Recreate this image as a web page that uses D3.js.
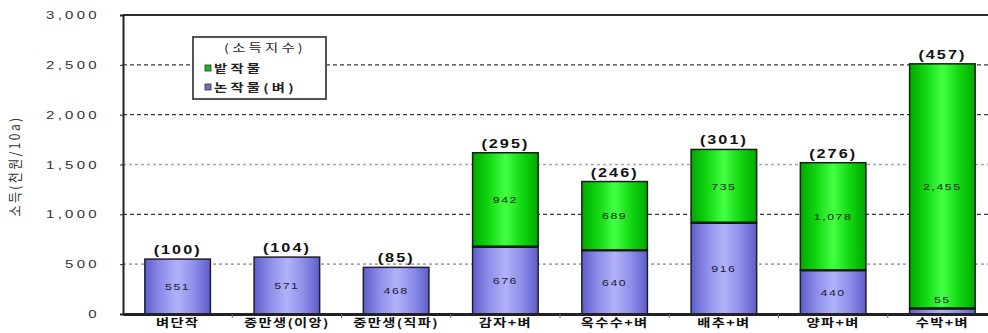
<!DOCTYPE html>
<html><head><meta charset="utf-8">
<script src="https://cdn.jsdelivr.net/npm/d3@7"></script>
<style>
html,body{margin:0;padding:0;background:#fff;}
svg{display:block;}
text{font-family:Arial,"Liberation Sans","Noto Sans CJK KR",sans-serif;fill:#1a1a1a;}
.kr{font-family:"Noto Sans CJK KR",sans-serif;}
</style>
</head><body>
<svg id="c" width="988" height="333"></svg>
<script>
const categories = ["벼단작","중만생(이앙)","중만생(직파)","감자+벼","옥수수+벼","배추+벼","양파+벼","수박+벼"];
const riceValues = [551,571,468,676,640,916,440,55];
const uplandValues = [0,0,0,942,689,735,1078,2455];
const indexLabels = [100,104,85,295,246,301,276,457];
const yTicks = [0,500,1000,1500,2000,2500,3000];
const legendTitle = "(소득지수)";
const seriesNames = ["밭작물","논작물(벼)"];
const yTitle = "소득(천원/10a)";

const svg = d3.select("#c");
const W = 988, H = 333;
const m = {left:123, right:-9, top:15, bottom:19};
const x = d3.scaleBand().domain(categories).range([m.left, W - m.right]).paddingInner(0.4).paddingOuter(0.2);
const y = d3.scaleLinear().domain([0,3000]).range([H - m.bottom, m.top]);

const defs = svg.append("defs");
function grad(id, edge, mid, center){
  const g = defs.append("linearGradient").attr("id",id).attr("x1","0").attr("x2","1").attr("y1","0").attr("y2","0");
  g.append("stop").attr("offset","0%").attr("stop-color",edge);
  g.append("stop").attr("offset","25%").attr("stop-color",mid);
  g.append("stop").attr("offset","50%").attr("stop-color",center);
  g.append("stop").attr("offset","75%").attr("stop-color",mid);
  g.append("stop").attr("offset","100%").attr("stop-color",edge);
}
grad("gP","#5e5ecc","#8e8eea","#b2b2fa");
grad("gG","#00a800","#12d812","#44ff44");

function stext(g, tx, ty, str, opt){
  const t = g.append("text")
    .attr("transform",`translate(${tx},${ty}) scale(${opt.sx||1},${opt.sy||1})`)
    .attr("text-anchor",opt.anchor||"middle")
    .attr("font-size",opt.size||10)
    .attr("font-weight",opt.weight||"normal")
    .attr("letter-spacing",opt.ls||0)
    .text(str);
  if(opt.cls) t.attr("class",opt.cls);
  if(opt.fill) t.style("fill",opt.fill);
  return t;
}

// gridlines
const grid = svg.append("g");
yTicks.filter(d=>d>0 && d<3000).forEach(d=>{
  const major = (d===1000||d===2000||d===2500);
  grid.append("line").attr("x1",m.left).attr("x2",W).attr("y1",y(d)).attr("y2",y(d))
    .attr("stroke", major ? "#3a3a3a" : "#a8a8a8")
    .attr("stroke-width", major ? 1.2 : 1.6)
    .attr("stroke-dasharray", major ? "4,3" : "3,3");
});
svg.append("line").attr("x1",m.left).attr("x2",W).attr("y1",y(3000)).attr("y2",y(3000))
  .attr("stroke","#2a2a2a").attr("stroke-width",2);

// y axis
const yAxis = d3.axisLeft(y).tickValues(yTicks).tickSize(3).tickFormat("");
const ya = svg.append("g").attr("transform",`translate(${m.left},0)`).call(yAxis);
ya.select(".domain").attr("stroke","#222").attr("stroke-width",2);
ya.selectAll(".tick line").attr("stroke","#222");
const fmt = d3.format(",");
yTicks.forEach(d=>{
  stext(svg, 100, y(d)+4, fmt(d), {anchor:"end", size:10, sx:1.5, ls:2.2, fill:"#333"});
});

// y title
svg.append("text").attr("class","kr")
  .attr("transform",`translate(20,166) rotate(-90) scale(1,1.15)`)
  .attr("text-anchor","middle").attr("font-size",12).attr("letter-spacing",2.4)
  .style("fill","#333").text(yTitle);

// bars
const bars = svg.append("g");
categories.forEach((c,i)=>{
  const bx = x(c), bw = x.bandwidth();
  const r = riceValues[i], u = uplandValues[i];
  bars.append("rect").attr("x",bx).attr("width",bw)
    .attr("y",y(r)).attr("height",y(0)-y(r))
    .attr("fill","url(#gP)").attr("stroke","#1e1e2e").attr("stroke-width",1.5);
  if(u>0){
    bars.append("rect").attr("x",bx).attr("width",bw)
      .attr("y",y(r+u)).attr("height",y(r)-y(r+u))
      .attr("fill","url(#gG)").attr("stroke","#142014").attr("stroke-width",1.5);
    bars.append("line").attr("x1",bx).attr("x2",bx+bw).attr("y1",y(r)).attr("y2",y(r))
      .attr("stroke","#102010").attr("stroke-width",2.5);
  }
});

// x axis
const xAxis = d3.axisBottom(x).tickSize(0).tickFormat("");
const xa = svg.append("g").attr("transform",`translate(0,${y(0)})`).call(xAxis);
xa.select(".domain").attr("stroke","#222").attr("stroke-width",3);
categories.slice(1).forEach(c=>{
  const sx = x(c) - x.step()*x.paddingInner()/2;
  svg.append("line").attr("x1",sx).attr("x2",sx).attr("y1",y(0)).attr("y2",y(0)+4)
    .attr("stroke","#666").attr("stroke-width",1);
});

// labels
categories.forEach((c,i)=>{
  const cx = x(c) + x.bandwidth()/2;
  const r = riceValues[i], u = uplandValues[i];
  const segH = y(0)-y(r);
  const ry = segH < 15 ? y(r) - 6 : (y(0)+y(r))/2 + 3.5;
  stext(svg, cx, ry, fmt(r), {size:9.5, sx:1.3, ls:1.2, fill:"#1a1a3a"});
  if(u>0){
    stext(svg, cx, (y(r)+y(r+u))/2 + 3.5, fmt(u), {size:9.5, sx:1.3, ls:1.2, fill:"#0a2a0a"});
  }
  stext(svg, cx, y(r+u) - 5, `(${indexLabels[i]})`, {size:12, weight:"bold", sx:1.35, ls:1.5, fill:"#111"});
  stext(svg, cx, 327, c, {size:11, weight:"bold", sx:1.3, ls:1, cls:"kr", fill:"#111"});
});

// legend
const lg = svg.append("g");
lg.append("rect").attr("x",193).attr("y",37).attr("width",133).attr("height",62)
  .attr("fill","#fff").attr("stroke","#555").attr("stroke-width",2);
stext(lg, 265, 52, legendTitle, {size:11, sx:1.3, ls:2.5, cls:"kr", fill:"#222"});
lg.append("rect").attr("x",205).attr("y",65).attr("width",6).attr("height",6)
  .attr("fill","#1cb81c").attr("stroke","#333").attr("stroke-width",0.8);
stext(lg, 214, 73, seriesNames[0], {anchor:"start", size:11, weight:"bold", sx:1.3, ls:2.5, cls:"kr", fill:"#222"});
lg.append("rect").attr("x",205).attr("y",84).attr("width",6).attr("height",6)
  .attr("fill","#7a6ab8").attr("stroke","#333").attr("stroke-width",0.8);
stext(lg, 214, 92, seriesNames[1], {anchor:"start", size:11, weight:"bold", sx:1.3, ls:2.5, cls:"kr", fill:"#222"});
</script>
</body></html>
